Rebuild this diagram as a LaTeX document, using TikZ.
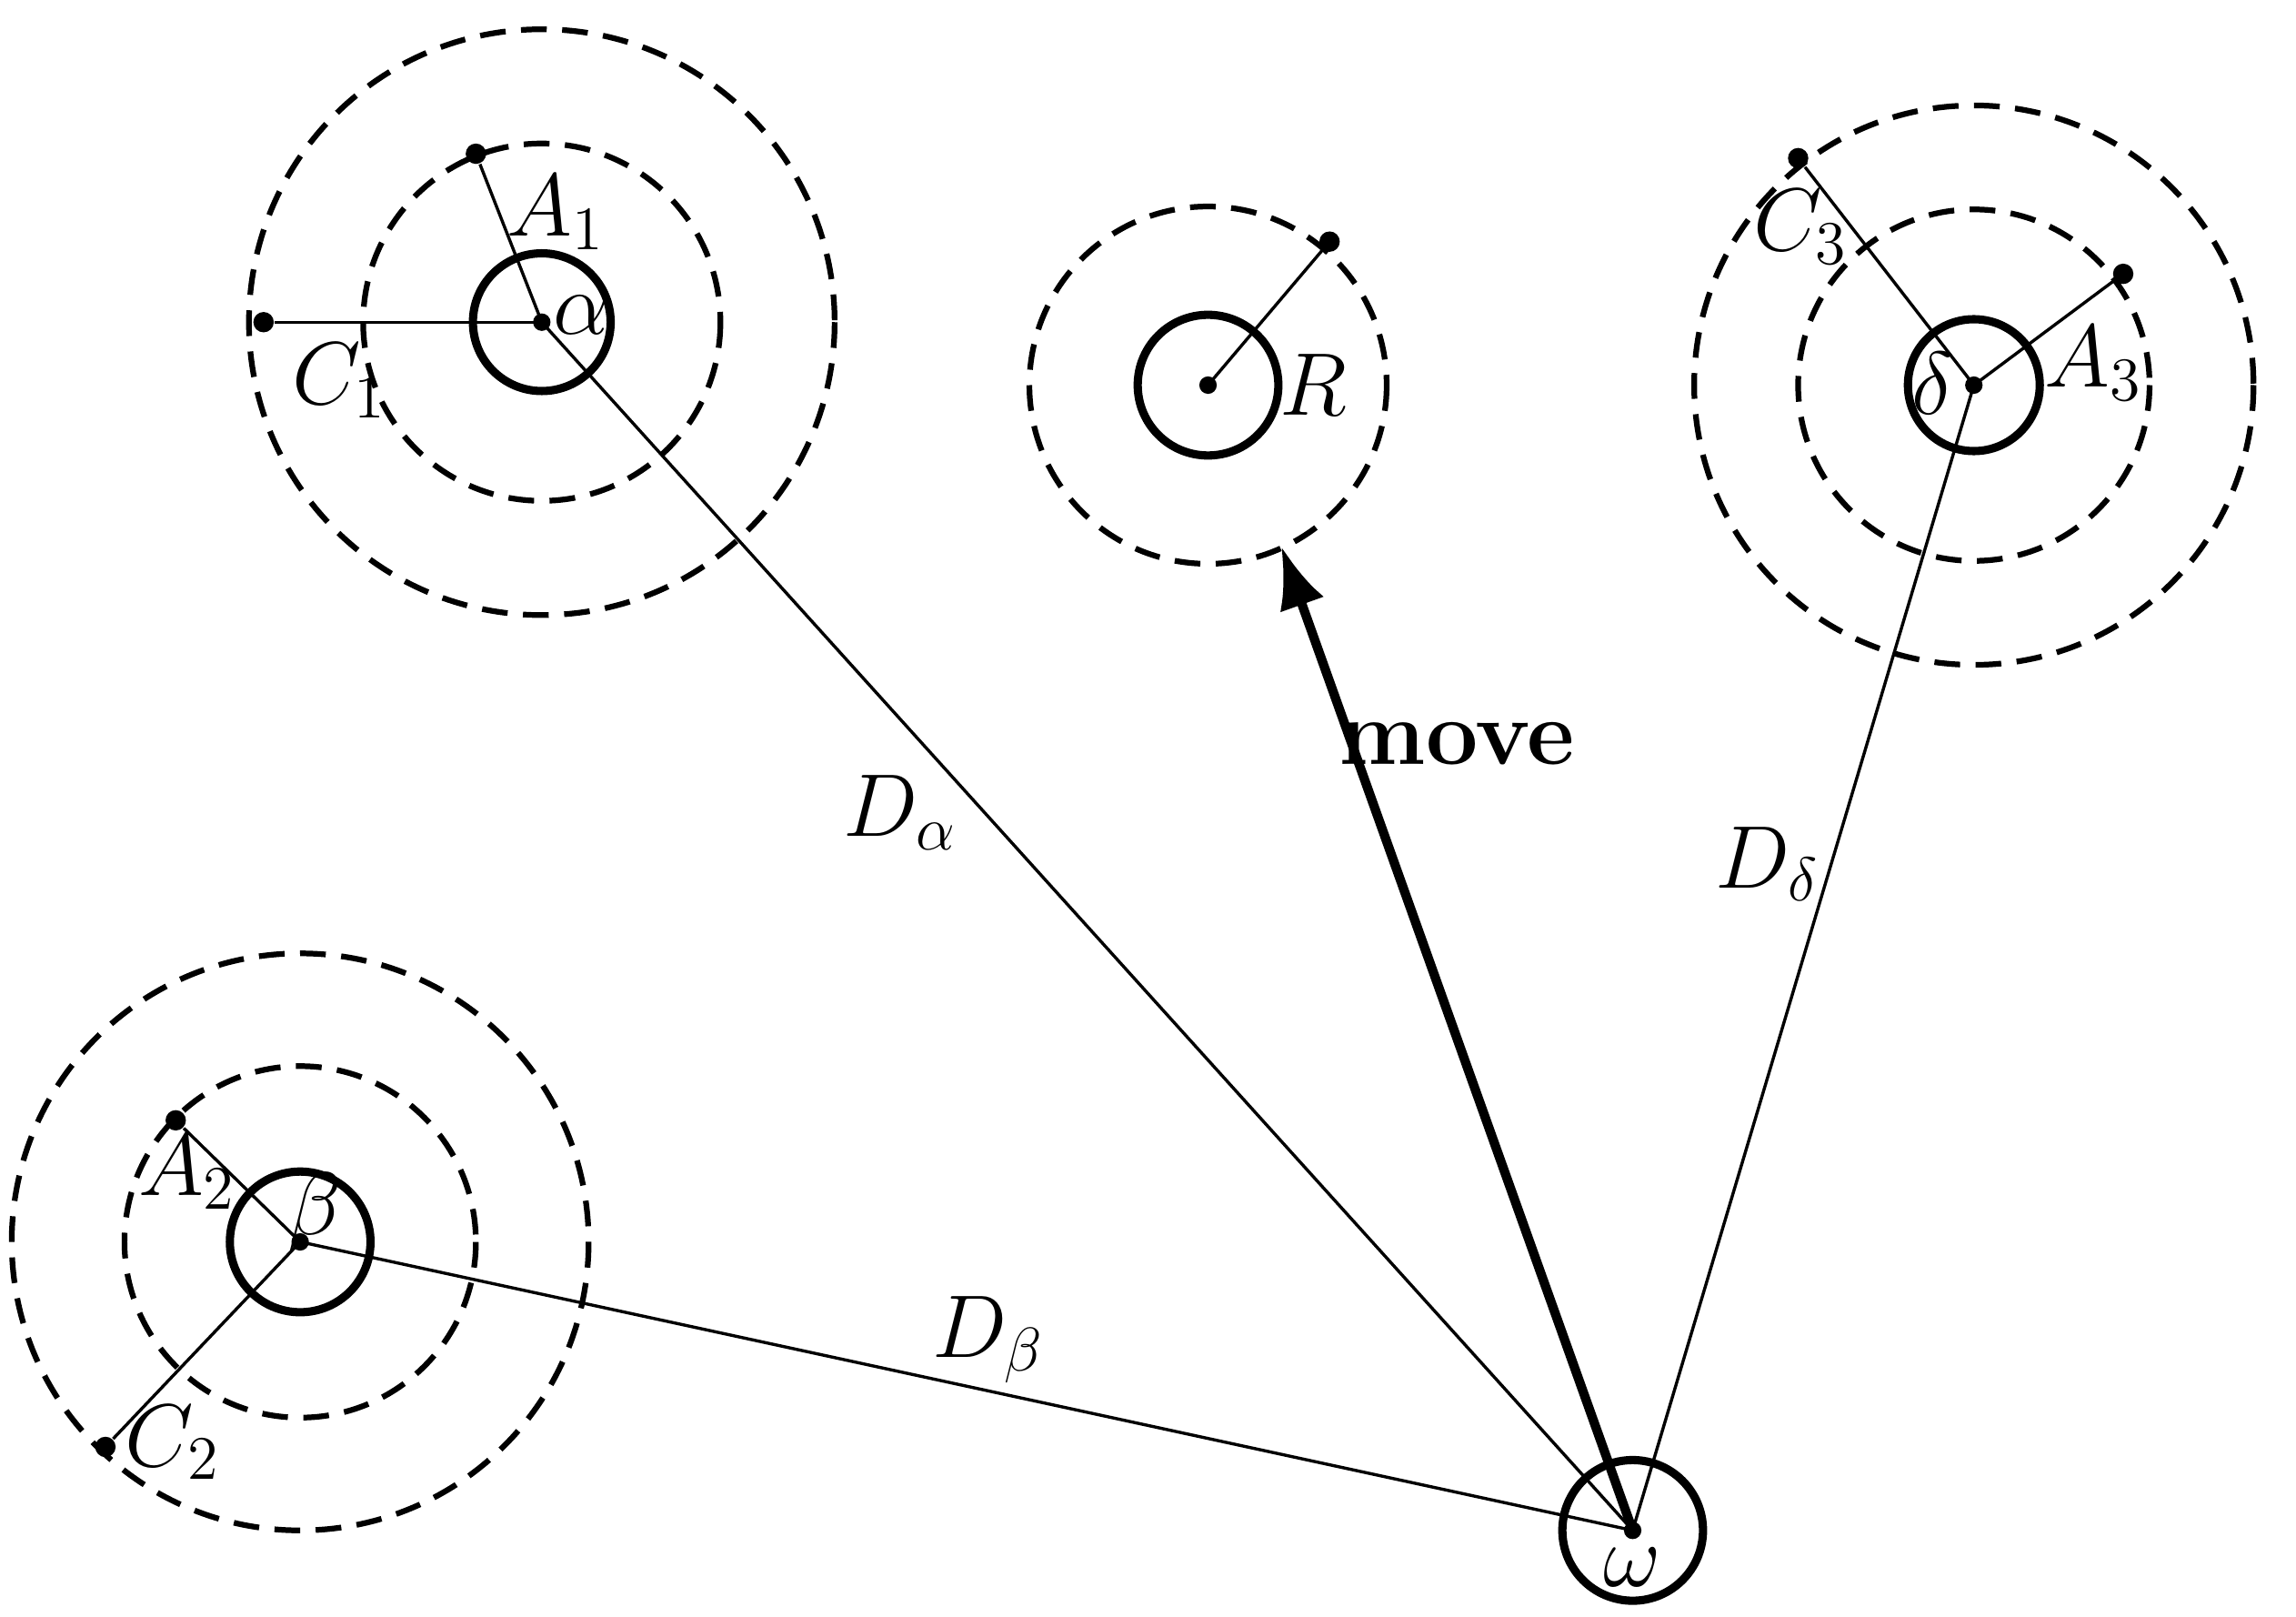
\documentclass[tikz,border=0pt]{standalone}
\usetikzlibrary{arrows.meta}
\begin{document}
\begin{tikzpicture}[x=0.01cm,y=-0.01cm,
  solidc/.style={circle,draw,line width=1.6pt,inner sep=0pt},
  dring/.style={line width=1.1pt,dash pattern=on 5pt off 3pt},
  thinl/.style={line width=0.6pt},
  dot/.style={circle,fill,inner sep=1.4pt},
  lab/.style={font=\fontsize{17}{20}\selectfont}]
\useasboundingbox (0,0) rectangle (1568,1104);
% alpha
\coordinate (a) at (370,220);
\node[solidc,minimum size=0.94cm] (ac) at (a) {};
\draw[dring] (a) circle (122); \draw[dring] (a) circle (200);
\node[dot] (a1) at (325,105) {}; \node[dot] (c1) at (180,220) {};
\draw[thinl] (a) -- (a1); \draw[thinl] (a) -- (c1);
\node[dot,inner sep=1.2pt] at (a) {};
\node[lab] (la1) at (380,145) {$A_1$};
\node[lab] (lc1) at (232,260) {$C_1$};
\node[lab] (lal) at (397,215) {$\alpha$};
% R
\coordinate (r) at (825,263);
\node[solidc,minimum size=0.96cm] (rc) at (r) {};
\draw[dring] (r) circle (122);
\node[dot] (r1) at (908,165) {};
\draw[thinl] (r) -- (r1);
\node[dot,inner sep=1.2pt] at (r) {};
\node[lab] (lr) at (897,263) {$R$};
% delta
\coordinate (d) at (1348,263);
\node[solidc,minimum size=0.9cm] (dc) at (d) {};
\draw[dring] (d) circle (120); \draw[dring] (d) circle (191);
\node[dot] (c3) at (1228,108) {}; \node[dot] (a3) at (1450,187) {};
\draw[thinl] (d) -- (c3); \draw[thinl] (d) -- (a3);
\node[dot,inner sep=1.2pt] at (d) {};
\node[lab] (lc3) at (1230,155) {$C_3$};
\node[lab] (la3) at (1430,248) {$A_3$};
\node[lab] (ld) at (1320,262) {$\delta$};
% beta
\coordinate (b) at (205,848);
\node[solidc,minimum size=0.96cm] (bc) at (b) {};
\draw[dring] (b) circle (120); \draw[dring] (b) circle (197);
\node[dot] (a2) at (120,765) {}; \node[dot] (c2) at (72,988) {};
\draw[thinl] (b) -- (a2); \draw[thinl] (b) -- (c2);
\node[dot,inner sep=1.2pt] at (b) {};
\node[lab] (la2) at (128,800) {$A_2$};
\node[lab] (lb) at (215,828) {$\beta$};
\node[lab] (lc2) at (118,985) {$C_2$};
% omega
\coordinate (w) at (1115,1045);
\node[solidc,minimum size=0.96cm] (wc) at (w) {};
\node[dot,inner sep=1.2pt] at (w) {};
\node[lab] (lw) at (1115,1070) {$\omega$};
% distances
\draw[thinl] (w) -- (a); \draw[thinl] (w) -- (b); \draw[thinl] (w) -- (d);
\coordinate (mv) at (875,373);
\draw[line width=1.8pt,-{Latex[length=12pt,width=9pt]}] (w) -- (mv);
\node[lab] (lda) at (615,555) {$D_\alpha$};
\node[lab] (ldb) at (675,915) {$D_\beta$};
\node[lab] (ldd) at (1207,590) {$D_\delta$};
\node[lab,font=\fontsize{18}{20}\selectfont\bfseries] (lm) at (995,508) {move};
\end{tikzpicture}
\end{document}
